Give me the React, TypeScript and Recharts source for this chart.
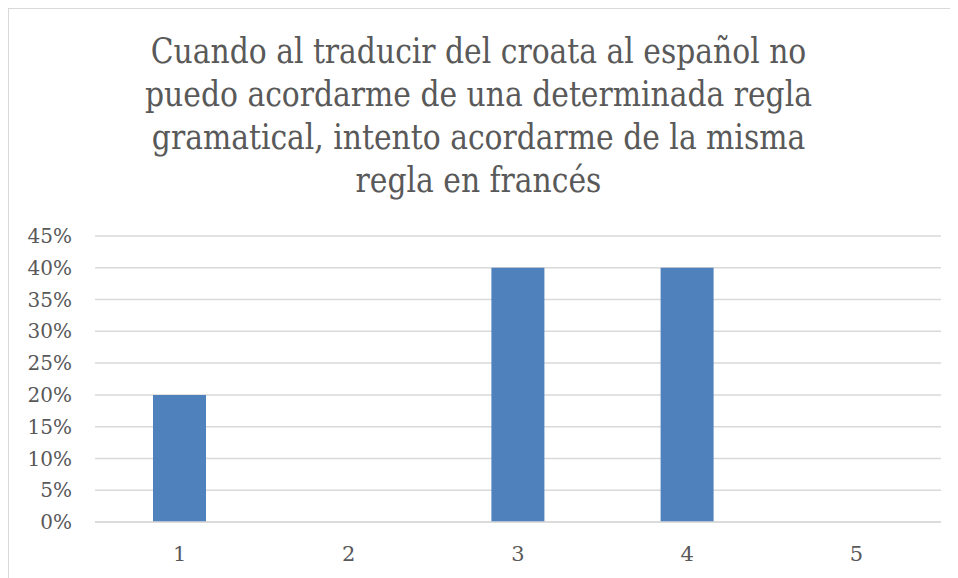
import React from 'react';
import { BarChart, Bar, XAxis, YAxis, CartesianGrid } from 'recharts';

const TITLE_LINES = [
  'Cuando al traducir del croata al español no',
  'puedo acordarme de una determinada regla',
  'gramatical, intento acordarme de la misma',
  'regla en francés',
];

const CATEGORIES = ['1', '2', '3', '4', '5'];
const VALUES = [0.2, 0, 0.4, 0.4, 0];
const Y_TICKS = [0, 0.05, 0.1, 0.15, 0.2, 0.25, 0.3, 0.35, 0.4, 0.45];

const data = CATEGORIES.map((name, i) => ({ name, value: VALUES[i] }));

const TEXT = '#595959';
const GRID = '#D9D9D9';
const BLUE = '#4F81BD';

const App: React.FC = () => {
  return (
    <div
      style={{
        position: 'relative',
        width: 947,
        height: 580,
        border: `1px solid ${GRID}`,
        background: '#fff',
        overflow: 'hidden',
      }}
    >
      <div
        style={{
          position: 'absolute',
          top: 20,
          left: -4,
          width: 947,
          textAlign: 'center',
          fontFamily: '"DejaVu Serif Condensed", "DejaVu Serif", serif',
          fontStretch: 'condensed',
          fontSize: 36,
          lineHeight: '43px',
          color: TEXT,
        }}
      >
        {TITLE_LINES.map((line) => (
          <div key={line} style={{ transform: 'scaleX(0.92)', whiteSpace: 'nowrap' }}>
            {line}
          </div>
        ))}
      </div>
      <BarChart
        width={947}
        height={560}
        data={data}
        margin={{ top: 227, right: 15, bottom: 17, left: 0 }}
      >
        <CartesianGrid vertical={false} stroke={GRID} strokeWidth={1.5} />
        <XAxis
          dataKey="name"
          height={30}
          axisLine={{ stroke: GRID, strokeWidth: 1.5 }}
          tickLine={false}
          tickSize={0}
          tickMargin={24}
          tick={{ fill: TEXT, fontSize: 21, fontFamily: '"DejaVu Serif", serif' }}
        />
        <YAxis
          width={86}
          domain={[0, 0.45]}
          ticks={Y_TICKS}
          interval={0}
          axisLine={false}
          tickLine={false}
          tickSize={0}
          tickMargin={23}
          tickFormatter={(v: number) => `${Math.round(v * 100)}%`}
          tick={{ fill: TEXT, fontSize: 20, fontFamily: '"DejaVu Serif", serif' }}
        />
        <Bar dataKey="value" fill={BLUE} barSize={53} isAnimationActive={false} />
      </BarChart>
    </div>
  );
};

export default App;
